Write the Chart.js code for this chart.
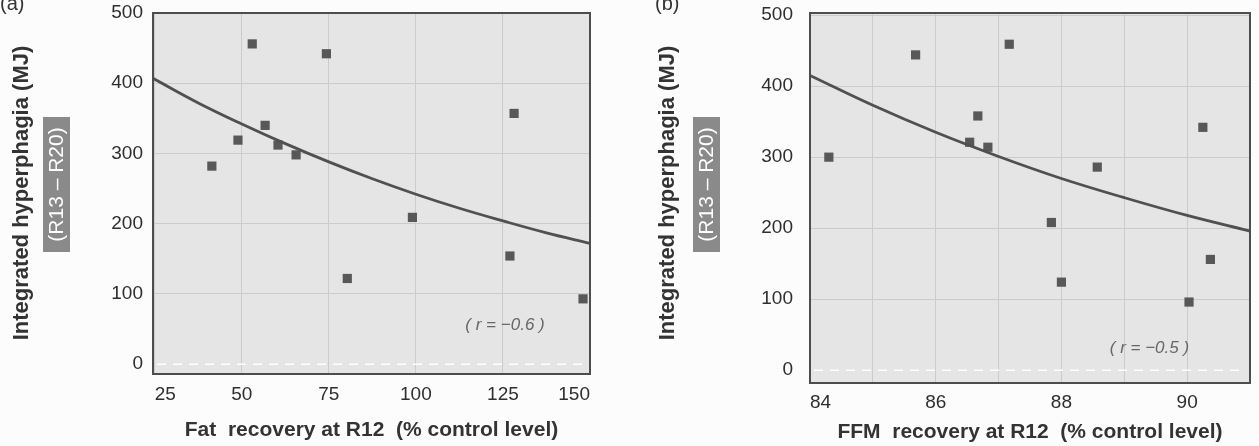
<!DOCTYPE html>
<html>
<head>
<meta charset="utf-8">
<script src="https://cdn.jsdelivr.net/npm/chart.js@4/dist/chart.umd.min.js"></script>
<style>
  html, body { margin: 0; padding: 0; background: #fcfcfc; }
  #wrap { position: relative; width: 1259px; height: 446px; overflow: hidden; }
  .panel { position: absolute; top: 0; height: 446px; }
</style>
</head>
<body>
<div id="wrap">
  <div class="panel" style="left:0;width:620px"><canvas id="fatChart" width="620" height="446"></canvas></div>
  <div class="panel" style="left:620px;width:639px"><canvas id="ffmChart" width="639" height="446"></canvas></div>
</div>
<script>
// y axis, shared by both panels
const yTicks = [0, 100, 200, 300, 400, 500];

// (a) fat recovery
const fatTicks = [25, 50, 75, 100, 125, 150];
const fatX = [53, 74.3, 41.4, 48.9, 56.7, 60.4, 65.6, 99, 80.3, 128.2, 127, 148];
const fatY = [456, 442, 282, 319, 340, 312, 298, 209, 122, 357, 154, 93];
const fatCurveX = [24.5, 37.5, 50, 62.5, 75, 87.5, 100, 112.5, 125, 137.5, 150];
const fatCurveY = [407, 372, 342, 314, 288, 264, 242, 222, 204, 187, 172];

// (b) FFM recovery
const ffmTicks = [84, 85, 86, 87, 88, 89, 90, 91];
const ffmX = [84.3, 85.68, 87.17, 86.67, 86.54, 86.83, 88.57, 87.84, 88.0, 90.25, 90.37, 90.03];
const ffmY = [300, 444, 459, 358, 321, 314, 286, 208, 124, 342, 156, 96];
const ffmCurveX = [84, 85, 86, 87, 88, 89, 90, 91];
const ffmCurveY = [415, 373, 335, 301, 270, 243, 218, 196];

const FONT = "'Liberation Sans', Arial, sans-serif";
const INK = '#505050';

// plot background, zero line, frame and the hand-placed texts
const panelDeco = {
  id: 'panelDeco',
  beforeDraw(chart, args, o) {
    const { ctx, chartArea: a } = chart;
    ctx.save();
    ctx.fillStyle = '#fcfcfc';
    ctx.fillRect(0, 0, chart.width, chart.height);
    ctx.fillStyle = '#e5e5e5';
    ctx.fillRect(a.left, a.top, a.right - a.left, a.bottom - a.top);
    ctx.restore();
  },
  beforeDatasetsDraw(chart) {
    const { ctx, chartArea: a, scales } = chart;
    const y0 = scales.y.getPixelForValue(0);
    ctx.save();
    ctx.strokeStyle = '#ffffff';
    ctx.lineWidth = 1.5;
    ctx.setLineDash([9, 7]);
    ctx.beginPath();
    ctx.moveTo(a.left + 4, y0);
    ctx.lineTo(a.right - 4, y0);
    ctx.stroke();
    ctx.restore();
  },
  afterDraw(chart, args, o) {
    const { ctx, chartArea: a, scales } = chart;
    ctx.save();
    // frame
    ctx.strokeStyle = '#4d4d4d';
    ctx.lineWidth = 2;
    ctx.strokeRect(a.left, a.top, a.right - a.left, a.bottom - a.top);

    // panel letter
    ctx.fillStyle = '#333';
    ctx.font = '20px ' + FONT;
    ctx.textAlign = 'left';
    ctx.textBaseline = 'alphabetic';
    ctx.fillText(o.letter, o.letterX, 10);

    // y title
    ctx.save();
    ctx.translate(o.yTitleX, 193);
    ctx.rotate(-Math.PI / 2);
    ctx.font = 'bold 22px ' + FONT;
    ctx.textAlign = 'center';
    ctx.textBaseline = 'middle';
    ctx.fillStyle = '#333';
    ctx.fillText('Integrated hyperphagia (MJ)', 0, 0);
    ctx.restore();

    // grey tag (R13 – R20)
    ctx.fillStyle = '#8a8a8a';
    ctx.fillRect(o.tagX, 117, 27, 135);
    ctx.save();
    ctx.translate(o.tagX + 13.5, 184.5);
    ctx.rotate(-Math.PI / 2);
    ctx.font = '21px ' + FONT;
    ctx.textAlign = 'center';
    ctx.textBaseline = 'middle';
    ctx.fillStyle = '#ffffff';
    ctx.fillText('(R13 – R20)', 0, 1);
    ctx.restore();

    // x title
    ctx.font = 'bold 21px ' + FONT;
    ctx.textAlign = 'center';
    ctx.textBaseline = 'middle';
    ctx.fillStyle = '#333';
    ctx.fillText(o.xTitle, (a.left + a.right) / 2, o.xTitleY);

    // correlation note
    ctx.font = 'italic 17px ' + FONT;
    ctx.fillStyle = '#666666';
    ctx.fillText(o.rText, scales.x.getPixelForValue(o.rAt[0]), scales.y.getPixelForValue(o.rAt[1]));
    ctx.restore();
  }
};

function makePanel(id, p) {
  return new Chart(document.getElementById(id), {
    data: {
      datasets: [
        {
          type: 'line',
          data: p.curveX.map((x, i) => ({ x, y: p.curveY[i] })),
          borderColor: INK,
          borderWidth: 2.8,
          pointRadius: 0,
          tension: 0.4,
          fill: false
        },
        {
          type: 'scatter',
          data: p.x.map((x, i) => ({ x, y: p.y[i] })),
          pointStyle: 'rect',
          pointRadius: 6.5,
          backgroundColor: '#585858',
          borderColor: '#585858',
          borderWidth: 0
        }
      ]
    },
    options: {
      responsive: false,
      animation: false,
      layout: { padding: { left: 0, top: 13, right: p.padRight, bottom: 0 } },
      plugins: {
        legend: { display: false },
        tooltip: { enabled: false },
        panelDeco: p.deco
      },
      scales: {
        x: {
          type: 'linear',
          min: p.xMin,
          max: p.xMax,
          afterBuildTicks: s => { s.ticks = p.xTicks.map(v => ({ value: v })); },
          afterFit: s => { s.height = p.bottomH; s.paddingLeft = 0; s.paddingRight = 0; },
          border: { display: false },
          grid: { color: '#cbcbcb', lineWidth: 1, drawTicks: false },
          ticks: {
            align: 'inner',
            padding: p.xPad,
            maxRotation: 0,
            autoSkip: false,
            color: '#2e2e2e',
            font: { family: FONT, size: 19 },
            callback: v => p.xLabels.includes(v) ? String(v) : ''
          }
        },
        y: {
          type: 'linear',
          min: p.yMin,
          max: p.yMax,
          afterBuildTicks: s => { s.ticks = yTicks.map(v => ({ value: v })); },
          afterFit: s => { s.width = p.leftW; s.paddingTop = 0; s.paddingBottom = 0; },
          border: { display: false },
          grid: {
            color: c => (c.tick && c.tick.value === 0) ? 'rgba(0,0,0,0)' : '#cbcbcb',
            lineWidth: 1,
            drawTicks: false
          },
          ticks: {
            padding: p.yPad,
            color: '#2e2e2e',
            font: { family: FONT, size: 19 }
          }
        }
      }
    },
    plugins: [panelDeco]
  });
}

makePanel('fatChart', {
  x: fatX, y: fatY, curveX: fatCurveX, curveY: fatCurveY,
  xMin: 24.5, xMax: 150, xTicks: fatTicks, xLabels: fatTicks,
  yMin: -14, yMax: 500,
  leftW: 153, padRight: 30, bottomH: 72, xPad: 9, yPad: 10,
  deco: {
    letter: '(a)', letterX: 0, yTitleX: 22, tagX: 43,
    xTitle: 'Fat  recovery at R12  (% control level)', xTitleY: 430,
    rText: '( r = −0.6 )', rAt: [125.6, 56]
  }
});

makePanel('ffmChart', {
  x: ffmX, y: ffmY, curveX: ffmCurveX, curveY: ffmCurveY,
  xMin: 84, xMax: 91, xTicks: ffmTicks, xLabels: [84, 86, 88, 90],
  yMin: -18, yMax: 503,
  leftW: 190, padRight: 9, bottomH: 63, xPad: 8, yPad: 17,
  deco: {
    letter: '(b)', letterX: 35, yTitleX: 48, tagX: 73,
    xTitle: 'FFM  recovery at R12  (% control level)', xTitleY: 432,
    rText: '( r = −0.5 )', rAt: [89.4, 31]
  }
});
</script>
</body>
</html>
